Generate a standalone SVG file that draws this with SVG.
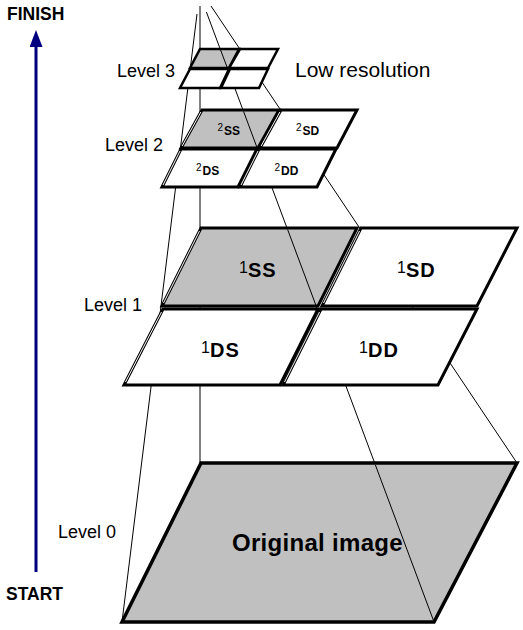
<svg xmlns="http://www.w3.org/2000/svg" width="523" height="630" viewBox="0 0 523 630">
<style>
.ln{stroke:#000;stroke-width:1;fill:none}
.c{stroke:#000;stroke-width:3;stroke-linejoin:miter}
.c0{stroke:#000;stroke-width:3.5;stroke-linejoin:miter}
.c3{stroke:#000;stroke-width:2.5;stroke-linejoin:miter}
.w{fill:#fff}
.g{fill:#c0c0c0}
.le{stroke:#fff;stroke-width:1;fill:none}
.t{font-family:"Liberation Sans",Arial,sans-serif;fill:#000}
.lab{font-size:18px}
.b{font-weight:bold}
.s1{font-size:16px}
.m1{font-size:20px;font-weight:bold;letter-spacing:1px}
.s2{font-size:10px}
.m2{font-size:12px;font-weight:bold}
</style>
<defs>
<marker id="ah" markerUnits="userSpaceOnUse" markerWidth="18" markerHeight="14" refX="0" refY="6.5" orient="auto">
<path d="M0,0 L17,6.5 L0,13 z" fill="#000080"/>
</marker>
</defs>
<rect width="523" height="630" fill="#fff"/>

<g id="arrow">
<line x1="36" y1="572" x2="36" y2="47" stroke="#000080" stroke-width="3" marker-end="url(#ah)"/>
<text class="t b" x="7" y="20" font-size="17.5">FINISH</text>
<text class="t b" x="6" y="600" font-size="17.5">START</text>
</g>

<g id="connectors">
<line class="ln" x1="200" y1="6" x2="200" y2="463"/>
<line class="ln" x1="197" y1="14" x2="122" y2="622"/>
<line class="ln" x1="206.4" y1="12" x2="434" y2="622"/>
<line class="ln" x1="211" y1="6" x2="517" y2="463"/>
</g>

<g id="level0">
<polygon class="c0 g" points="201,463 517,463 434,622 122,622"/>
<text class="t lab" x="58" y="538">Level 0</text>
<text class="t b" x="232" y="551" font-size="24" letter-spacing="0.3">Original image</text>
</g>

<g id="level1">
<polygon class="c g" points="201,228 357,228 318,306 162,306"/>
<polygon class="c w" points="361,228 517,228 477,306 322,306"/>
<polygon class="c w" points="163,309 318,309 280,385 124,385"/>
<polygon class="c w" points="321,309 477,309 438,385 283,385"/>
<line class="le" x1="199.5" y1="231" x2="163.5" y2="303"/>
<line class="le" x1="359.5" y1="231" x2="323.5" y2="303"/>
<line class="le" x1="161.5" y1="312" x2="125.5" y2="382"/>
<line class="le" x1="319.5" y1="312" x2="284.5" y2="382"/>
<text class="t lab" x="84" y="311">Level 1</text>
<text class="t"><tspan class="s1" x="239" y="273">1</tspan><tspan class="m1" x="248" y="277">SS</tspan></text>
<text class="t"><tspan class="s1" x="397" y="273">1</tspan><tspan class="m1" x="406" y="277">SD</tspan></text>
<text class="t"><tspan class="s1" x="201" y="353">1</tspan><tspan class="m1" x="210" y="357">DS</tspan></text>
<text class="t"><tspan class="s1" x="359" y="353">1</tspan><tspan class="m1" x="368" y="357">DD</tspan></text>
</g>

<g id="level2">
<polygon class="c g" points="202,110 279,110 258,148 181,148"/>
<polygon class="c w" points="281,110 357,110 337,148 260,148"/>
<polygon class="c w" points="181,149 257,149 238,187 162,187"/>
<polygon class="c w" points="259,149 336,149 317,187 240,187"/>
<line class="le" x1="200.9" y1="112" x2="182.1" y2="146"/>
<line class="le" x1="279.9" y1="112" x2="261.1" y2="146"/>
<line class="le" x1="180" y1="151" x2="163" y2="185"/>
<line class="le" x1="258" y1="151" x2="241" y2="185"/>
<text class="t lab" x="105" y="151">Level 2</text>
<text class="t"><tspan class="s2" x="217.5" y="131">2</tspan><tspan class="m2" x="224" y="135">SS</tspan></text>
<text class="t"><tspan class="s2" x="296" y="131">2</tspan><tspan class="m2" x="302.5" y="135">SD</tspan></text>
<text class="t"><tspan class="s2" x="196" y="171">2</tspan><tspan class="m2" x="202.5" y="175">DS</tspan></text>
<text class="t"><tspan class="s2" x="274.5" y="171">2</tspan><tspan class="m2" x="281" y="175">DD</tspan></text>
</g>

<g id="level3">
<polygon class="c3 g" points="200,49 239,49 229,68 190,68"/>
<polygon class="c3 w" points="240,49 278,49 268,68 229,68"/>
<polygon class="c3 w" points="190,69 229,69 220,88 180,88"/>
<polygon class="c3 w" points="230,69 268,69 259,88 221,88"/>
<text class="t lab" x="117" y="77">Level 3</text>
<text class="t" x="295" y="77" font-size="21">Low resolution</text>
</g>

<g id="connectors-over-gray">
<line class="ln" x1="375.4" y1="465" x2="433.3" y2="620"/>
<line class="ln" x1="287.6" y1="229.5" x2="315.8" y2="305"/>
<line class="ln" x1="243.6" y1="111.5" x2="256.8" y2="147"/>
<line class="ln" x1="220.6" y1="50" x2="227" y2="67"/>
</g>
</svg>
